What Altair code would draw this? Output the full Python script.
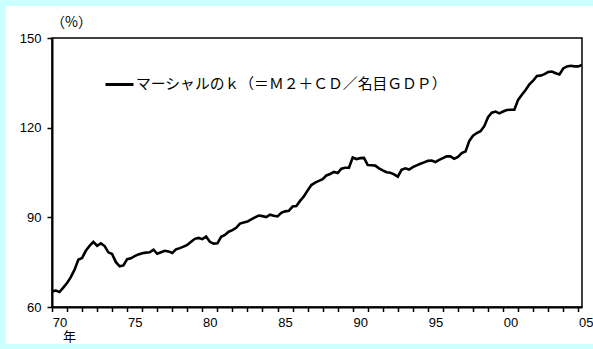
import altair as alt
import pandas as pd

# Marshall's k, quarterly, 1970Q1 - 2005Q2 (%)
start_year = 1970
k_values = [
    65.2, 65.5, 65.0, 66.5,      # 1970
    68.0, 70.0, 72.5, 75.8,      # 1971
    76.4, 78.8, 80.5, 81.8,      # 1972
    80.5, 81.3, 80.4, 78.3,      # 1973
    77.7, 75.0, 73.6, 73.9,      # 1974
    76.0, 76.3, 77.0, 77.6,      # 1975
    78.0, 78.2, 78.3, 79.2,      # 1976
    77.8, 78.3, 78.8, 78.6,      # 1977
    78.1, 79.3, 79.7, 80.2,      # 1978
    80.8, 81.8, 82.8, 83.1,      # 1979
    82.7, 83.6, 81.8, 81.2,      # 1980
    81.3, 83.5, 84.1, 85.2,      # 1981
    85.7, 86.5, 87.9, 88.3,      # 1982
    88.6, 89.3, 90.0, 90.6,      # 1983
    90.4, 90.1, 90.9, 90.5,      # 1984
    90.3, 91.5, 92.0, 92.2,      # 1985
    93.6, 93.8, 95.5, 97.0,      # 1986
    99.0, 100.8, 101.6, 102.2,   # 1987
    102.8, 104.0, 104.5, 105.2,  # 1988
    104.8, 106.3, 106.6, 106.6,  # 1989
    110.0, 109.5, 109.8, 109.9,  # 1990
    107.5, 107.4, 107.3, 106.4,  # 1991
    105.7, 105.1, 104.9, 104.4,  # 1992
    103.6, 105.9, 106.4, 106.0,  # 1993
    106.8, 107.4, 107.9, 108.4,  # 1994
    108.9, 109.0, 108.5, 109.2,  # 1995
    109.8, 110.4, 110.4, 109.6,  # 1996
    110.2, 111.5, 112.0, 115.5,  # 1997
    117.3, 118.2, 118.8, 120.5,  # 1998
    123.5, 125.0, 125.4, 124.8,  # 1999
    125.4, 125.9, 126.0, 126.0,  # 2000
    129.3, 131.0, 132.6, 134.5,  # 2001
    135.7, 137.3, 137.4, 137.9,  # 2002
    138.6, 138.8, 138.2, 137.8,  # 2003
    139.8, 140.5, 140.7, 140.5,  # 2004
    140.5, 141.0,                # 2005
]
series_name = "マーシャルのｋ（＝Ｍ２＋ＣＤ／名目ＧＤＰ）"
year_ticks = list(range(1970, 2006))
labelled_years = [str(y) for y in range(1970, 2006, 5)]
y_ticks = [60, 90, 120, 150]

df = pd.DataFrame({
    "t": [start_year + i / 4 for i in range(len(k_values))],
    "k": k_values,
    "series": series_name,
})

W, H = 530, 269
PAD_L, PAD_T, PAD_R, PAD_B = 52, 38, 11, 42
x_scale = alt.Scale(domain=[1970, 2005.25], nice=False, zero=False)
y_scale = alt.Scale(domain=[60, 150], nice=False, zero=False)
num_font = "Arial, Liberation Sans, sans-serif"
jp_font = "Noto Sans CJK JP"
cyan = "#CCFFFF"

one = pd.DataFrame({"a": [0]})


def strip(x0, x1, y0, y1):
    """Cyan page border strip, placed in pixels around the plot area."""
    return alt.Chart(one).mark_rect(color=cyan).encode(
        x=alt.value(x0), x2=alt.value(x1), y=alt.value(y0), y2=alt.value(y1)
    )


border = [
    strip(-PAD_L, -PAD_L + 6, -PAD_T, H + PAD_B),          # left
    strip(-PAD_L, W + PAD_R, -PAD_T, -PAD_T + 6),          # top
    strip(-PAD_L, W + PAD_R, H + PAD_B - 5, H + PAD_B),    # bottom
]

# label only every fifth year, two digits, centred inside that year's span
label_expr = (
    "indexof(" + str(labelled_years).replace("'", '"') + ", datum.label) >= 0"
    " ? substring(datum.label, 2) : ''"
)

line = alt.Chart(df).mark_line(strokeWidth=2.6, clip=True).encode(
    x=alt.X("t:Q", scale=x_scale, axis=alt.Axis(
        values=year_ticks, format="d", labelExpr=label_expr,
        labelOffset=7.5, labelFlush=False, labelOverlap=False, labelSeparation=0,
        ticks=True, tickSize=4.5, tickWidth=1.5, tickColor="black",
        grid=False, labelPadding=4.5,
        labelFont=num_font, labelFontSize=13, labelColor="black",
        domainColor="black", domainWidth=2,
        title="年", titleFont=jp_font, titleFontSize=13, titleFontWeight="normal",
        titleX=17, titleY=29, titleAlign="center", titleBaseline="middle",
    )),
    y=alt.Y("k:Q", scale=y_scale, axis=alt.Axis(
        values=y_ticks, grid=False, tickSize=5, tickColor="black", tickWidth=1.5,
        labelPadding=6, labelFont=num_font, labelFontSize=13, labelColor="black",
        domainColor="black", domainWidth=2,
        title="（%）", titleAngle=0, titleFont=jp_font, titleFontSize=14,
        titleFontWeight="normal", titleX=19, titleY=-16,
        titleAlign="center", titleBaseline="middle",
    )),
    color=alt.Color("series:N", scale=alt.Scale(range=["black"]), legend=alt.Legend(
        title=None, orient="none", legendX=52, legendY=31, padding=0,
        symbolType="stroke", symbolSize=784, symbolStrokeWidth=3,
        symbolStrokeColor="black",
        labelFont=jp_font, labelFontSize=14.8, labelColor="black",
        labelLimit=0, labelOffset=1,
    )),
)

chart = alt.layer(*border, line).properties(
    width=W, height=H,
    background="white",
    padding={"left": PAD_L, "top": PAD_T, "right": PAD_R, "bottom": PAD_B},
    autosize=alt.AutoSizeParams(type="none"),
    title=alt.TitleParams(
        "【マーシャルのｋ】", font=jp_font, fontSize=13, fontWeight="normal",
        color="black", anchor="start", frame="group", dx=111, offset=0, dy=6,
        baseline="bottom", zindex=1,
    ),
).configure_view(stroke="black", strokeWidth=1.5)

chart.save("out.html", embed_options={"renderer": "svg", "actions": False})
